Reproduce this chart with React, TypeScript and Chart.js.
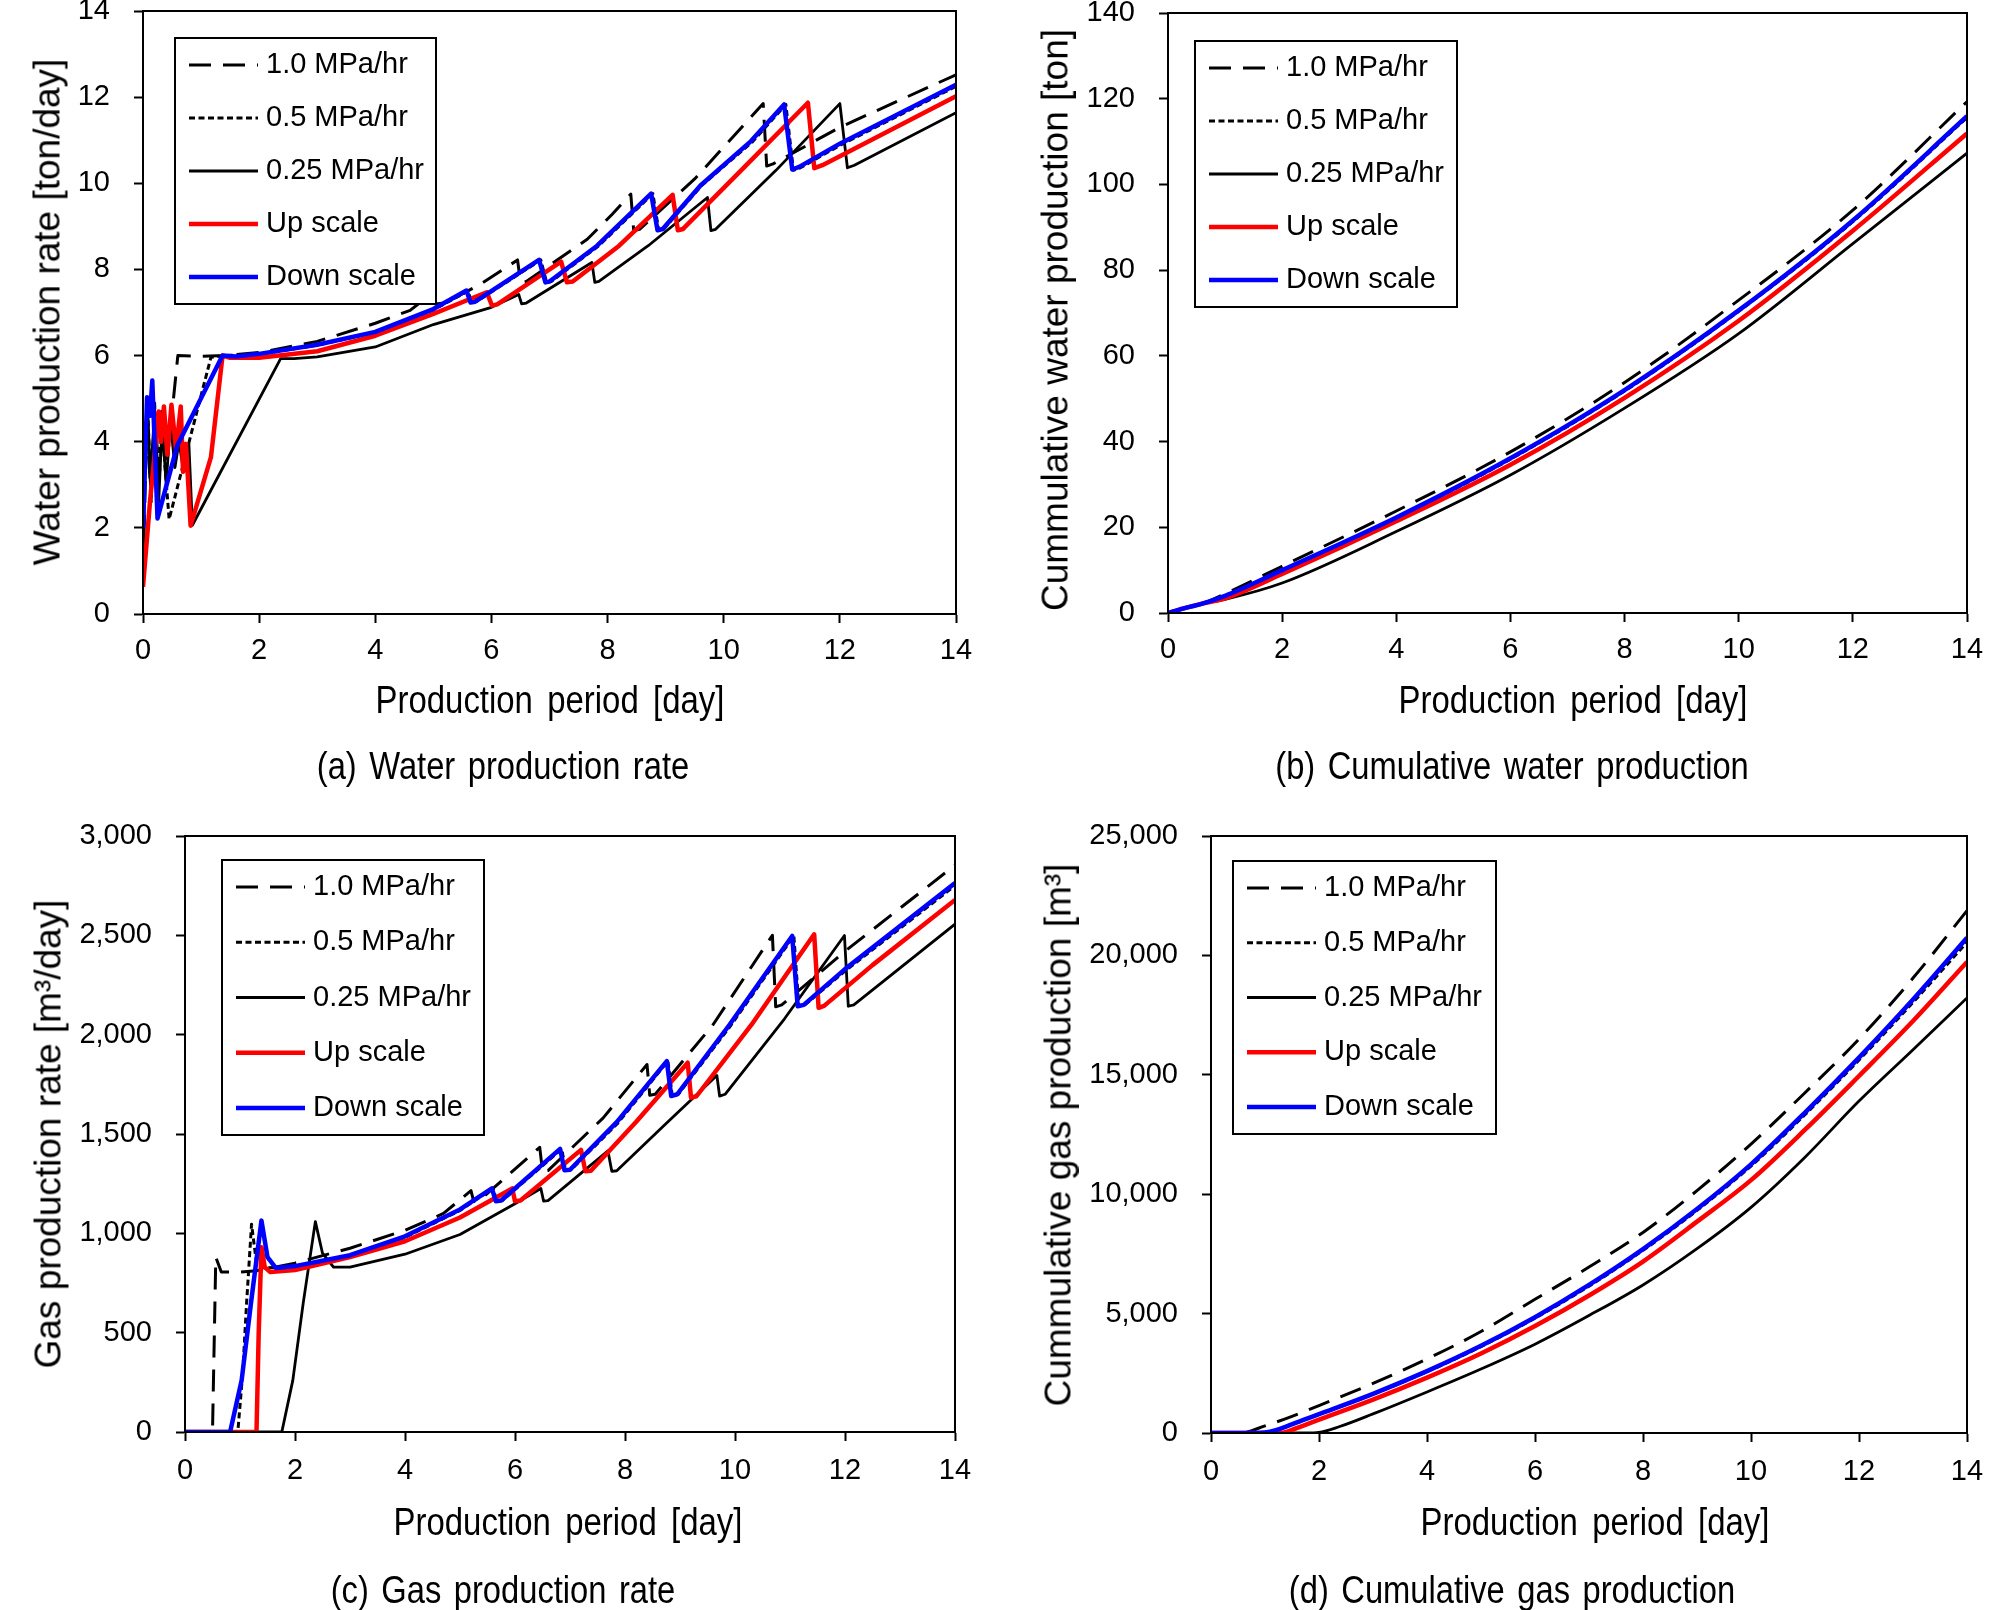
import React, { useEffect, useRef } from 'react';
import { Chart, registerables } from 'chart.js';

Chart.register(...registerables);

const FONT = '"Liberation Sans", Arial, Helvetica, sans-serif';
const PAGE_W = 2008;
const PAGE_H = 1610;

// ---------- legend labels ----------
const seriesLabels = ['1.0 MPa/hr', '0.5 MPa/hr', '0.25 MPa/hr', 'Up scale', 'Down scale'];

// ---------- tick values ----------
const xTickValues = [0, 2, 4, 6, 8, 10, 12, 14];
const yTicksWaterRate = [0, 2, 4, 6, 8, 10, 12, 14];
const yTicksCumWater = [0, 20, 40, 60, 80, 100, 120, 140];
const yTicksGasRate = [0, 500, 1000, 1500, 2000, 2500, 3000];
const yTicksCumGas = [0, 5000, 10000, 15000, 20000, 25000];

// ---------- (a) water production rate [ton/day] ----------
const wr10Days = [0, 0.03, 0.07, 0.13, 0.2, 0.28, 0.35, 0.42, 0.6, 1.0, 1.4, 2, 3, 4, 4.6, 4.98, 5.03, 5.2, 5.8, 6.45, 6.5, 6.6, 7.65, 8.08, 8.4, 8.45, 8.55, 9.5, 10.68, 10.74, 10.85, 12, 14];
const wr10 = [1.0, 2.5, 4.7, 2.8, 4.7, 3.2, 4.5, 3.6, 6.0, 5.98, 6.0, 6.07, 6.33, 6.75, 7.05, 7.45, 7.2, 7.22, 7.65, 8.22, 7.7, 7.72, 8.7, 9.28, 9.75, 8.9, 8.93, 10.1, 11.85, 10.4, 10.45, 11.3, 12.52];
const wr05Days = [0, 0.04, 0.08, 0.14, 0.2, 0.26, 0.32, 0.38, 0.45, 1.17, 1.4, 2, 3, 4, 5, 5.6, 5.66, 5.75, 6.85, 6.95, 7.03, 7.85, 8.78, 8.88, 8.97, 9.62, 10.5, 11.07, 11.2, 11.32, 12, 14];
const wr05 = [1.8, 3.8, 4.8, 2.6, 4.9, 3.0, 4.7, 3.4, 2.2, 5.96, 6.0, 6.03, 6.24, 6.54, 7.06, 7.5, 7.23, 7.26, 8.22, 7.7, 7.72, 8.55, 9.76, 8.91, 8.94, 9.95, 10.97, 11.83, 10.3, 10.36, 10.88, 12.25];
const wr025Days = [0, 0.04, 0.08, 0.13, 0.2, 0.27, 0.33, 0.4, 0.47, 0.55, 0.62, 0.7, 0.79, 0.85, 2.37, 2.6, 3, 4, 5, 6, 6.47, 6.52, 6.6, 7.73, 7.78, 7.85, 8.7, 9.72, 9.78, 9.86, 10.9, 12.0, 12.13, 12.25, 14];
const wr025 = [1.2, 3.5, 4.8, 3.0, 4.8, 2.6, 4.4, 3.0, 4.5, 3.4, 4.0, 3.3, 3.96, 2.06, 5.93, 5.93, 5.97, 6.2, 6.72, 7.12, 7.42, 7.2, 7.22, 8.16, 7.7, 7.72, 8.55, 9.67, 8.9, 8.93, 10.3, 11.85, 10.36, 10.42, 11.64];
const wrUpDays = [0, 0.12, 0.27, 0.31, 0.36, 0.42, 0.49, 0.57, 0.65, 0.69, 0.74, 0.82, 1.17, 1.37, 1.5, 2, 3, 4, 5, 5.92, 6.01, 6.1, 7.2, 7.3, 7.4, 8.2, 9.12, 9.21, 9.3, 10.3, 11.45, 11.56, 11.7, 14];
const wrUp = [0.63, 2.6, 4.7, 4.0, 4.82, 3.7, 4.86, 3.8, 4.82, 3.3, 3.95, 2.05, 3.64, 6.0, 5.95, 5.95, 6.1, 6.46, 6.97, 7.47, 7.16, 7.19, 8.18, 7.7, 7.72, 8.55, 9.73, 8.91, 8.94, 10.3, 11.87, 10.35, 10.42, 12.02];
const wrDownDays = [0, 0.07, 0.12, 0.16, 0.25, 0.59, 1.37, 1.6, 2, 3, 4, 5, 5.57, 5.64, 5.72, 6.82, 6.93, 7.0, 7.82, 8.75, 8.86, 8.95, 9.6, 10.47, 11.04, 11.18, 11.3, 12, 14];
const wrDown = [2.0, 5.03, 4.6, 5.42, 2.22, 3.91, 6.0, 5.98, 6.04, 6.25, 6.55, 7.08, 7.51, 7.23, 7.25, 8.22, 7.7, 7.72, 8.55, 9.76, 8.91, 8.94, 9.95, 10.98, 11.83, 10.32, 10.38, 10.92, 12.29];

// ---------- (b) cumulative water production [ton] ----------
const cwDays = [0, 0.2, 0.6, 1, 2, 4, 6, 8, 10, 12, 14];
const cw10 = [0, 0.8, 2.2, 4.5, 10.9, 23.8, 37.6, 53.8, 73.0, 94.0, 119.3];
const cw05 = [0, 0.8, 2.2, 4.0, 9.9, 22.1, 35.9, 51.8, 70.4, 91.3, 115.6];
const cw025 = [0, 0.8, 2.2, 3.2, 7.0, 19.0, 32.2, 47.8, 65.2, 86.2, 107.3];
const cwUp = [0, 0.8, 2.2, 3.4, 9.1, 21.4, 34.6, 50.2, 68.2, 89.2, 111.9];
const cwDown = [0, 0.8, 2.2, 4.0, 10.0, 22.3, 36.1, 52.0, 70.6, 91.6, 115.9];

// ---------- (c) gas production rate [m3/day] ----------
const gr10Days = [0, 0.5, 0.56, 0.66, 1.0, 1.3, 2, 3, 4, 4.7, 5.2, 5.25, 5.35, 6.45, 6.5, 6.6, 7.6, 8.4, 8.45, 8.55, 9.6, 10.68, 10.74, 10.85, 12, 14];
const gr10 = [0, 0, 880, 805, 805, 812, 850, 925, 1015, 1100, 1215, 1160, 1165, 1433, 1312, 1316, 1580, 1850, 1695, 1700, 2050, 2500, 2140, 2150, 2420, 2853];
const gr05Days = [0, 0.96, 1.05, 1.12, 1.21, 1.3, 1.45, 2, 3, 4, 5, 5.6, 5.67, 5.77, 6.85, 6.92, 7.02, 7.87, 8.78, 8.86, 8.97, 9.92, 11.07, 11.16, 11.27, 12, 14];
const gr05 = [0, 0, 300, 650, 1046, 850, 825, 836, 885, 980, 1115, 1226, 1162, 1165, 1425, 1317, 1320, 1555, 1867, 1691, 1700, 2045, 2497, 2143, 2150, 2320, 2750];
const gr025Days = [0, 1.76, 1.96, 2.15, 2.37, 2.5, 2.7, 3, 4, 5, 6, 6.47, 6.52, 6.6, 7.69, 7.76, 7.85, 8.7, 9.67, 9.72, 9.82, 10.9, 11.99, 12.06, 12.16, 14];
const gr025 = [0, 0, 260, 650, 1059, 900, 830, 830, 895, 994, 1149, 1226, 1162, 1165, 1415, 1312, 1315, 1540, 1795, 1691, 1700, 2080, 2499, 2143, 2150, 2556];
const grUpDays = [0, 1.3, 1.34, 1.39, 1.45, 1.55, 2, 3, 4, 5, 5.95, 6.0, 6.1, 7.2, 7.28, 7.38, 8.2, 9.14, 9.2, 9.3, 10.3, 11.44, 11.52, 11.62, 12.5, 14];
const grUp = [0, 0, 500, 930, 830, 805, 815, 880, 960, 1080, 1226, 1162, 1165, 1420, 1312, 1315, 1560, 1859, 1683, 1690, 2050, 2505, 2135, 2145, 2350, 2678];
const grDownDays = [0, 0.82, 1.03, 1.2, 1.39, 1.5, 1.65, 2, 3, 4, 5, 5.58, 5.65, 5.75, 6.82, 6.9, 7.0, 7.85, 8.76, 8.84, 8.95, 9.9, 11.04, 11.14, 11.25, 12, 14];
const grDown = [0, 0, 260, 650, 1064, 880, 826, 835, 890, 985, 1120, 1226, 1162, 1165, 1425, 1317, 1320, 1560, 1867, 1691, 1700, 2050, 2497, 2143, 2150, 2330, 2763];

// ---------- (d) cumulative gas production [m3] ----------
const cg10Days = [0, 0.55, 1, 1.5, 2, 3, 4, 5, 6, 7, 8, 9, 10, 11, 12, 13, 14];
const cg10 = [0, 0, 300, 700, 1150, 2080, 3100, 4250, 5600, 6950, 8400, 10150, 12100, 14250, 16500, 19050, 21876];
const cg05Days = [0, 0.95, 1.1, 1.25, 1.4, 2, 3, 4, 5, 6, 7, 8, 9, 10, 11, 12, 13, 14];
const cg05 = [0, 0, 40, 150, 280, 780, 1625, 2570, 3620, 4810, 6150, 7650, 9320, 11180, 13330, 15620, 18030, 20550];
const cg025Days = [0, 1.76, 2, 2.37, 3, 4, 5, 6, 7, 8, 9, 10, 11, 12, 13, 14];
const cg025 = [0, 0, 25, 260, 800, 1720, 2680, 3720, 4920, 6200, 7720, 9450, 11550, 13900, 16050, 18220];
const cgUpDays = [0, 1.3, 1.4, 1.7, 2, 3, 4, 5, 6, 7, 8, 9, 10, 11, 12, 13, 14];
const cgUp = [0, 0, 50, 300, 560, 1400, 2320, 3330, 4480, 5760, 7180, 8850, 10590, 12700, 14950, 17250, 19725];
const cgDownDays = [0, 0.85, 1.0, 1.2, 1.4, 1.7, 2, 3, 4, 5, 6, 7, 8, 9, 10, 11, 12, 13, 14];
const cgDown = [0, 0, 20, 120, 280, 540, 790, 1640, 2590, 3650, 4850, 6200, 7700, 9380, 11250, 13420, 15720, 18150, 20736];

// ---------- styles (not data) ----------
const seriesStyles = [
  { color: '#000000', width: 3, dash: [22, 12], order: 4 },
  { color: '#000000', width: 3, dash: [6, 3.5], order: 3 },
  { color: '#000000', width: 2.8, dash: [] as number[], order: 2 },
  { color: '#ff0000', width: 4.5, dash: [] as number[], order: 1 },
  { color: '#0000ff', width: 4.5, dash: [] as number[], order: 0 },
];

type Panel = {
  L: number; T: number; R: number; B: number;
  yTicks: number[];
  comma: boolean;
  smooth: boolean;
  xPad: number;
  series: [number[], number[]][];
  legend: { dx: number; dy: number; w: number; h: number };
};

const panels: Panel[] = [
  {
    L: 143, T: 11, R: 956, B: 614, yTicks: yTicksWaterRate, comma: false, smooth: false, xPad: 11,
    series: [[wr10Days, wr10], [wr05Days, wr05], [wr025Days, wr025], [wrUpDays, wrUp], [wrDownDays, wrDown]],
    legend: { dx: 32, dy: 27, w: 261, h: 266 },
  },
  {
    L: 1168, T: 13, R: 1967, B: 613, yTicks: yTicksCumWater, comma: false, smooth: true, xPad: 11,
    series: [[cwDays, cw10], [cwDays, cw05], [cwDays, cw025], [cwDays, cwUp], [cwDays, cwDown]],
    legend: { dx: 27, dy: 28, w: 262, h: 266 },
  },
  {
    L: 185, T: 836, R: 955, B: 1432, yTicks: yTicksGasRate, comma: true, smooth: false, xPad: 13,
    series: [[gr10Days, gr10], [gr05Days, gr05], [gr025Days, gr025], [grUpDays, grUp], [grDownDays, grDown]],
    legend: { dx: 37, dy: 24, w: 262, h: 275 },
  },
  {
    L: 1211, T: 836, R: 1967, B: 1433, yTicks: yTicksCumGas, comma: true, smooth: true, xPad: 13,
    series: [[cg10Days, cg10], [cg05Days, cg05], [cg025Days, cg025], [cgUpDays, cgUp], [cgDownDays, cgDown]],
    legend: { dx: 22, dy: 25, w: 263, h: 273 },
  },
];

const yTitles = [
  { text: 'Water production rate [ton/day]', x: 47, y: 312 },
  { text: 'Cummulative water production [ton]', x: 1055, y: 320 },
  { text: 'Gas production rate [m\u00B3/day]', x: 47.5, y: 1134 },
  { text: 'Cummulative gas production [m\u00B3]', x: 1058, y: 1135 },
];
const xTitles = [
  { text: 'Production period [day]', x: 550, y: 700 },
  { text: 'Production period [day]', x: 1573, y: 700 },
  { text: 'Production period [day]', x: 568, y: 1522 },
  { text: 'Production period [day]', x: 1595, y: 1522 },
];
const captions = [
  { text: '(a) Water production rate', x: 503, y: 766 },
  { text: '(b) Cumulative water production', x: 1512, y: 766 },
  { text: '(c) Gas production rate', x: 503, y: 1590 },
  { text: '(d) Cumulative gas production', x: 1512, y: 1590 },
];

const framePlugin = {
  id: 'frame',
  afterDraw(chart: any) {
    const { ctx, chartArea: a } = chart;
    ctx.save();
    ctx.strokeStyle = '#000';
    ctx.lineWidth = 2;
    ctx.setLineDash([]);
    ctx.strokeRect(a.left, a.top, a.right - a.left, a.bottom - a.top);
    ctx.restore();
  },
};

const boxLegendPlugin = {
  id: 'boxLegend',
  afterDatasetsDraw(chart: any, _args: any, opts: any) {
    const { ctx, chartArea } = chart;
    const x = chartArea.left + opts.dx;
    const y = chartArea.top + opts.dy;
    const w = opts.w;
    const h = opts.h;
    ctx.save();
    ctx.setLineDash([]);
    ctx.fillStyle = '#fff';
    ctx.fillRect(x, y, w, h);
    ctx.lineWidth = 2;
    ctx.strokeStyle = '#000';
    ctx.strokeRect(x, y, w, h);
    const step = (h - 54) / 4;
    chart.data.datasets.forEach((ds: any, i: number) => {
      const cy = y + 27 + i * step;
      ctx.beginPath();
      ctx.setLineDash(ds.borderDash || []);
      ctx.lineWidth = ds.borderWidth;
      ctx.strokeStyle = ds.borderColor;
      ctx.moveTo(x + 14, cy);
      ctx.lineTo(x + 83, cy);
      ctx.stroke();
      ctx.setLineDash([]);
      ctx.fillStyle = '#000';
      ctx.font = `29px ${FONT}`;
      ctx.textBaseline = 'middle';
      ctx.textAlign = 'left';
      ctx.fillText(ds.label, x + 91, cy);
    });
    ctx.restore();
  },
};

function makeConfig(p: Panel): any {
  const tickFont = { size: 29, family: FONT };
  return {
    type: 'line',
    data: {
      datasets: p.series.map(([xs, ys], i) => ({
        label: seriesLabels[i],
        data: xs.map((x, j) => ({ x, y: ys[j] })),
        borderColor: seriesStyles[i].color,
        borderWidth: seriesStyles[i].width,
        borderDash: seriesStyles[i].dash,
        order: seriesStyles[i].order,
        pointRadius: 0,
        fill: false,
        tension: 0,
        cubicInterpolationMode: p.smooth ? 'monotone' : 'default',
        borderJoinStyle: 'round',
        borderCapStyle: 'butt',
      })),
    },
    options: {
      animation: false,
      responsive: false,
      devicePixelRatio: 1,
      events: [],
      layout: { padding: { left: 0, top: p.T, right: PAGE_W - p.R, bottom: 0 } },
      plugins: {
        legend: { display: false },
        tooltip: { enabled: false },
        title: { display: false },
        boxLegend: p.legend,
      },
      scales: {
        x: {
          type: 'linear',
          min: 0,
          max: 14,
          afterBuildTicks: (s: any) => { s.ticks = xTickValues.map((v) => ({ value: v })); },
          ticks: { autoSkip: false, maxRotation: 0, minRotation: 0, padding: p.xPad, font: tickFont, color: '#000' },
          grid: { drawOnChartArea: false, drawTicks: true, tickLength: 9, tickWidth: 2, tickColor: '#000', color: '#000' },
          border: { display: true, color: '#000', width: 2 },
          afterFit: (s: any) => { s.height = PAGE_H - p.B; s.paddingLeft = 0; s.paddingRight = 0; },
        },
        y: {
          type: 'linear',
          min: 0,
          max: p.yTicks[p.yTicks.length - 1],
          afterBuildTicks: (s: any) => { s.ticks = p.yTicks.map((v) => ({ value: v })); },
          ticks: {
            autoSkip: false,
            padding: 24,
            font: tickFont,
            color: '#000',
            callback: (v: number) => (p.comma ? Number(v).toLocaleString('en-US') : String(v)),
          },
          grid: { drawOnChartArea: false, drawTicks: true, tickLength: 9, tickWidth: 2, tickColor: '#000', color: '#000' },
          border: { display: true, color: '#000', width: 2 },
          afterFit: (s: any) => { s.width = p.L; s.paddingTop = 0; s.paddingBottom = 0; },
        },
      },
    },
    plugins: [framePlugin, boxLegendPlugin],
  };
}

function PanelChart({ p }: { p: Panel }) {
  const ref = useRef<HTMLCanvasElement | null>(null);
  useEffect(() => {
    if (!ref.current) return;
    const chart = new Chart(ref.current, makeConfig(p));
    return () => chart.destroy();
  }, [p]);
  return (
    <canvas
      ref={ref}
      width={PAGE_W}
      height={PAGE_H}
      style={{ position: 'absolute', left: 0, top: 0, width: PAGE_W, height: PAGE_H }}
    />
  );
}

function Label({ text, x, y, size, rotate, sx, ws }: { text: string; x: number; y: number; size: number; rotate?: boolean; sx?: number; ws?: number }) {
  const transform = rotate
    ? 'translate(-50%, -50%) rotate(-90deg)'
    : `translate(-50%, -50%) scaleX(${sx ?? 1})`;
  return (
    <div
      style={{
        position: 'absolute',
        left: x,
        top: y,
        transform,
        whiteSpace: 'nowrap',
        fontFamily: FONT,
        fontSize: size,
        lineHeight: `${size}px`,
        wordSpacing: ws ? `${ws}px` : undefined,
        color: '#000',
      }}
    >
      {text}
    </div>
  );
}

export default function App() {
  return (
    <div
      style={{
        position: 'absolute',
        left: 0,
        top: 0,
        width: PAGE_W,
        height: PAGE_H,
        overflow: 'hidden',
        background: '#fff',
      }}
    >
      {panels.map((p, i) => (
        <PanelChart key={i} p={p} />
      ))}
      {yTitles.map((t, i) => (
        <Label key={'y' + i} text={t.text} x={t.x} y={t.y} size={37} rotate />
      ))}
      {xTitles.map((t, i) => (
        <Label key={'x' + i} text={t.text} x={t.x} y={t.y} size={38} sx={0.866} ws={6} />
      ))}
      {captions.map((t, i) => (
        <Label key={'c' + i} text={t.text} x={t.x} y={t.y} size={38} sx={0.86} ws={4} />
      ))}
    </div>
  );
}
